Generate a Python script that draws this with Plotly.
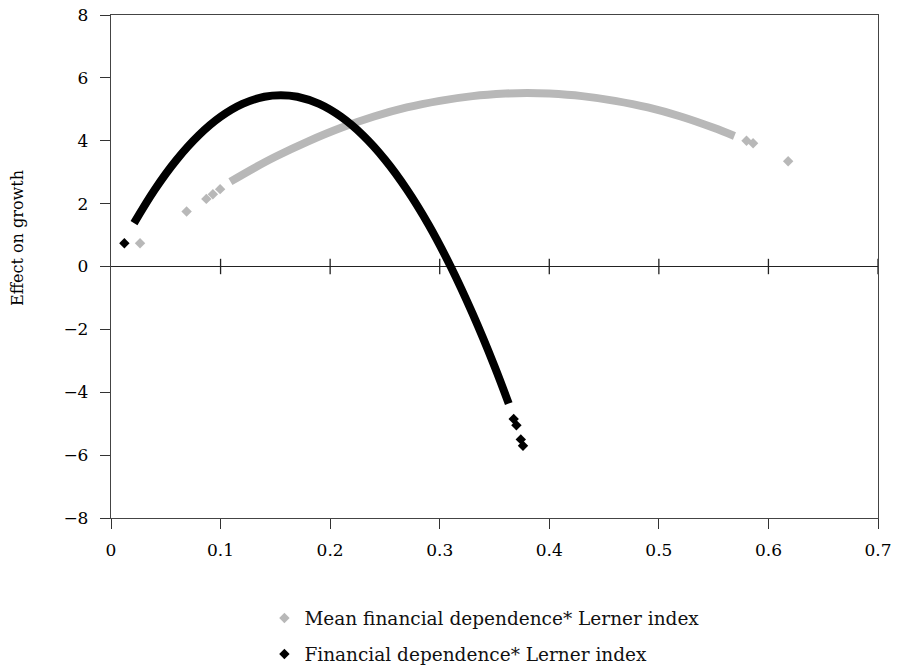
import plotly.graph_objects as go

# ---- data ----
# Mean financial dependence * Lerner index (grey)
mean_line_x = [0.109, 0.13, 0.15, 0.18, 0.21, 0.24, 0.27, 0.30, 0.33, 0.36, 0.38,
               0.40, 0.43, 0.46, 0.49, 0.52, 0.55, 0.569]
mean_line_y = [2.70, 3.12, 3.49, 3.98, 4.41, 4.77, 5.06, 5.27, 5.42, 5.50, 5.52,
               5.50, 5.42, 5.27, 5.06, 4.77, 4.41, 4.15]
mean_pts_x = [0.0265, 0.069, 0.087, 0.093, 0.0996, 0.580, 0.586, 0.618]
mean_pts_y = [0.74, 1.75, 2.15, 2.30, 2.46, 4.00, 3.92, 3.35]

# Financial dependence * Lerner index (black)
fin_line_x = [0.021, 0.04, 0.06, 0.08, 0.10, 0.12, 0.14, 0.155, 0.17, 0.19, 0.21,
              0.23, 0.25, 0.27, 0.29, 0.31, 0.33, 0.35, 0.363]
fin_line_y = [1.38, 2.45, 3.40, 4.17, 4.76, 5.17, 5.40, 5.45, 5.40, 5.17, 4.76,
              4.17, 3.40, 2.45, 1.32, 0.00, -1.50, -3.17, -4.36]
fin_pts_x = [0.0122, 0.3675, 0.370, 0.374, 0.376]
fin_pts_y = [0.74, -4.85, -5.05, -5.50, -5.70]

x_ticks = [0, 0.1, 0.2, 0.3, 0.4, 0.5, 0.6, 0.7]
x_labels = ["0", "0.1", "0.2", "0.3", "0.4", "0.5", "0.6", "0.7"]
y_ticks = [-8, -6, -4, -2, 0, 2, 4, 6, 8]

GREY = "#b8b8b8"
BLACK = "#000000"
FONT = "DejaVu Serif"

fig = go.Figure()

# continuous parts (dense marker runs)
fig.add_trace(go.Scatter(x=mean_line_x, y=mean_line_y, mode="lines",
                         line=dict(color=GREY, width=8, shape="spline"),
                         showlegend=False, hoverinfo="skip", legendgroup="a"))
fig.add_trace(go.Scatter(x=fin_line_x, y=fin_line_y, mode="lines",
                         line=dict(color=BLACK, width=8, shape="spline"),
                         showlegend=False, hoverinfo="skip", legendgroup="b"))

# isolated markers + legend entries
fig.add_trace(go.Scatter(x=mean_pts_x, y=mean_pts_y, mode="markers",
                         marker=dict(symbol="diamond", size=8, color=GREY),
                         name="Mean financial dependence* Lerner index",
                         legendgroup="a"))
fig.add_trace(go.Scatter(x=fin_pts_x, y=fin_pts_y, mode="markers",
                         marker=dict(symbol="diamond", size=8, color=BLACK),
                         name="Financial dependence* Lerner index",
                         legendgroup="b"))

# tick marks crossing the zero line
fig.add_trace(go.Scatter(x=x_ticks[1:], y=[0] * (len(x_ticks) - 1), mode="markers",
                         marker=dict(symbol="line-ns-open", size=11, color="#222",
                                     line=dict(color="#222", width=1.3)),
                         showlegend=False, hoverinfo="skip", cliponaxis=False))

fig.update_layout(
    width=902, height=670,
    margin=dict(l=111, r=24, t=15, b=152, autoexpand=False),
    paper_bgcolor="white", plot_bgcolor="white",
    font=dict(family=FONT, size=17, color="black"),
    showlegend=True,
    legend=dict(x=0.2, y=-0.162, xanchor="left", yanchor="top",
                orientation="v", traceorder="grouped", tracegroupgap=9,
                font=dict(family=FONT, size=18.5, color="#111"),
                bgcolor="rgba(0,0,0,0)"),
    xaxis=dict(range=[0, 0.7], tickvals=x_ticks, ticktext=x_labels,
               ticks="outside", ticklen=10, tickwidth=1.3, tickcolor="#333",
               showline=True, linecolor="#444", linewidth=1.3, mirror=True,
               showgrid=False, zeroline=False, automargin=False,
               ticklabelstandoff=6, ticklabeloverflow="allow",
               tickfont=dict(family=FONT, size=17, color="black")),
    yaxis=dict(range=[-8, 8], tickvals=y_ticks,
               ticks="outside", ticklen=10, tickwidth=1.3, tickcolor="#333",
               showline=True, linecolor="#444", linewidth=1.3, mirror=True,
               showgrid=False, zeroline=True, zerolinecolor="#222", zerolinewidth=1.3,
               automargin=False, ticklabelstandoff=8, ticklabeloverflow="allow",
               tickfont=dict(family=FONT, size=17, color="black")),
    annotations=[dict(text="Effect on growth", xref="paper", yref="paper",
                      x=-0.121, y=0.557, textangle=-90, showarrow=False,
                      font=dict(family=FONT, size=16, color="black"),
                      xanchor="center", yanchor="middle")],
)

# remove the page's default body margin so the figure fills the window exactly
fig.write_html("out.html", config={"displayModeBar": False},
               post_script="document.body.style.margin='0px';")
